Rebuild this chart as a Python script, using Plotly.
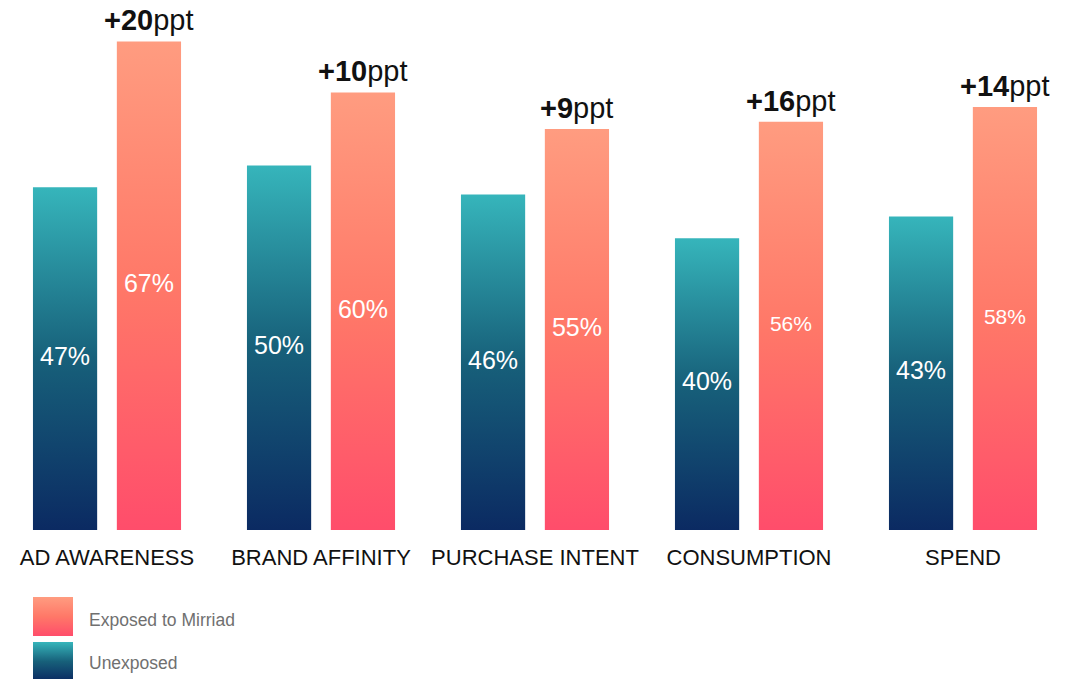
import plotly.graph_objects as go

# Survey metrics: share of respondents (%)
categories = ["AD AWARENESS", "BRAND AFFINITY", "PURCHASE INTENT", "CONSUMPTION", "SPEND"]
unexposed = [47, 50, 46, 40, 43]
exposed = [67, 60, 55, 56, 58]
uplift_ppt = [20, 10, 9, 16, 14]
series_names = ["Exposed to Mirriad", "Unexposed"]

FONT = "Liberation Sans, Arial, Helvetica, sans-serif"
TEAL_SCALE = [[0.0, "#0B2A62"], [0.5, "#17607A"], [1.0, "#36B5BB"]]
CORAL_SCALE = [[0.0, "#FF4D6B"], [0.5, "#FF7868"], [1.0, "#FF9C80"]]

BAR_W = 0.30
OFFSET = 0.196

fig = go.Figure()


def add_bar(x0, x1, y0, y1, scale, xaxis="x", yaxis="y"):
    """Rectangle with a vertical gradient fill."""
    fig.add_trace(go.Scatter(
        x=[x0, x1, x1, x0, x0],
        y=[y0, y0, y1, y1, y0],
        mode="lines",
        fill="toself",
        fillgradient=dict(type="vertical", colorscale=scale),
        line=dict(width=0, color="rgba(0,0,0,0)"),
        hoverinfo="skip",
        showlegend=False,
        xaxis=xaxis, yaxis=yaxis,
    ))


for i, (u, e) in enumerate(zip(unexposed, exposed)):
    cu, ce = i - OFFSET, i + OFFSET
    add_bar(cu - BAR_W / 2, cu + BAR_W / 2, 0, u, TEAL_SCALE)
    add_bar(ce - BAR_W / 2, ce + BAR_W / 2, 0, e, CORAL_SCALE)

# value labels centred inside each bar
lab_x, lab_y, lab_t, lab_s = [], [], [], []
for i, (u, e) in enumerate(zip(unexposed, exposed)):
    lab_x += [i - OFFSET, i + OFFSET]
    lab_y += [u / 2, e / 2]
    lab_t += [f"{u}%", f"{e}%"]
    lab_s += [25, 21 if i >= 3 else 25]
fig.add_trace(go.Scatter(
    x=lab_x, y=lab_y, text=lab_t, mode="text",
    textfont=dict(family=FONT, size=lab_s, color="white"),
    hoverinfo="skip", showlegend=False,
))

# uplift labels above the exposed bars
for i, (e, d) in enumerate(zip(exposed, uplift_ppt)):
    fig.add_annotation(
        x=i + OFFSET, y=e, xref="x", yref="y",
        text=f"<b>+{d}</b>ppt", showarrow=False,
        xanchor="center", yanchor="bottom", yshift=3,
        font=dict(family=FONT, size=29, color="#111111"),
    )

# custom legend with gradient swatches (pixel-unit axes)
add_bar(33, 73, 43, 82, CORAL_SCALE, "x2", "y2")
add_bar(33, 73, -2, 37, TEAL_SCALE, "x2", "y2")

for name, ypx in zip(series_names, [620, 663]):
    fig.add_annotation(
        x=87 / 1086, y=1 - ypx / 679, xref="paper", yref="paper",
        text=name, showarrow=False, xanchor="left", yanchor="middle",
        font=dict(family=FONT, size=17.5, color="#707070"),
    )

fig.update_layout(
    width=1086, height=679,
    margin=dict(l=0, r=0, t=0, b=0),
    paper_bgcolor="white", plot_bgcolor="white",
    showlegend=False,
    xaxis=dict(
        domain=[0, 1070 / 1086], range=[-0.5, 4.5],
        tickmode="array", tickvals=list(range(len(categories))), ticktext=categories,
        tickfont=dict(family=FONT, size=22, color="#111111"),
        showgrid=False, zeroline=False, showline=False, ticks="",
        ticklabelstandoff=12, fixedrange=True,
    ),
    yaxis=dict(
        domain=[149 / 679, 1 - 5 / 679], range=[0, 72],
        showgrid=False, zeroline=False, showline=False, showticklabels=False,
        fixedrange=True,
    ),
    xaxis2=dict(domain=[0, 1], range=[0, 1086], anchor="y2", visible=False, fixedrange=True),
    yaxis2=dict(domain=[0, 90 / 679], range=[0, 90], anchor="x2", visible=False, fixedrange=True),
)

fig.write_html("out.html")
